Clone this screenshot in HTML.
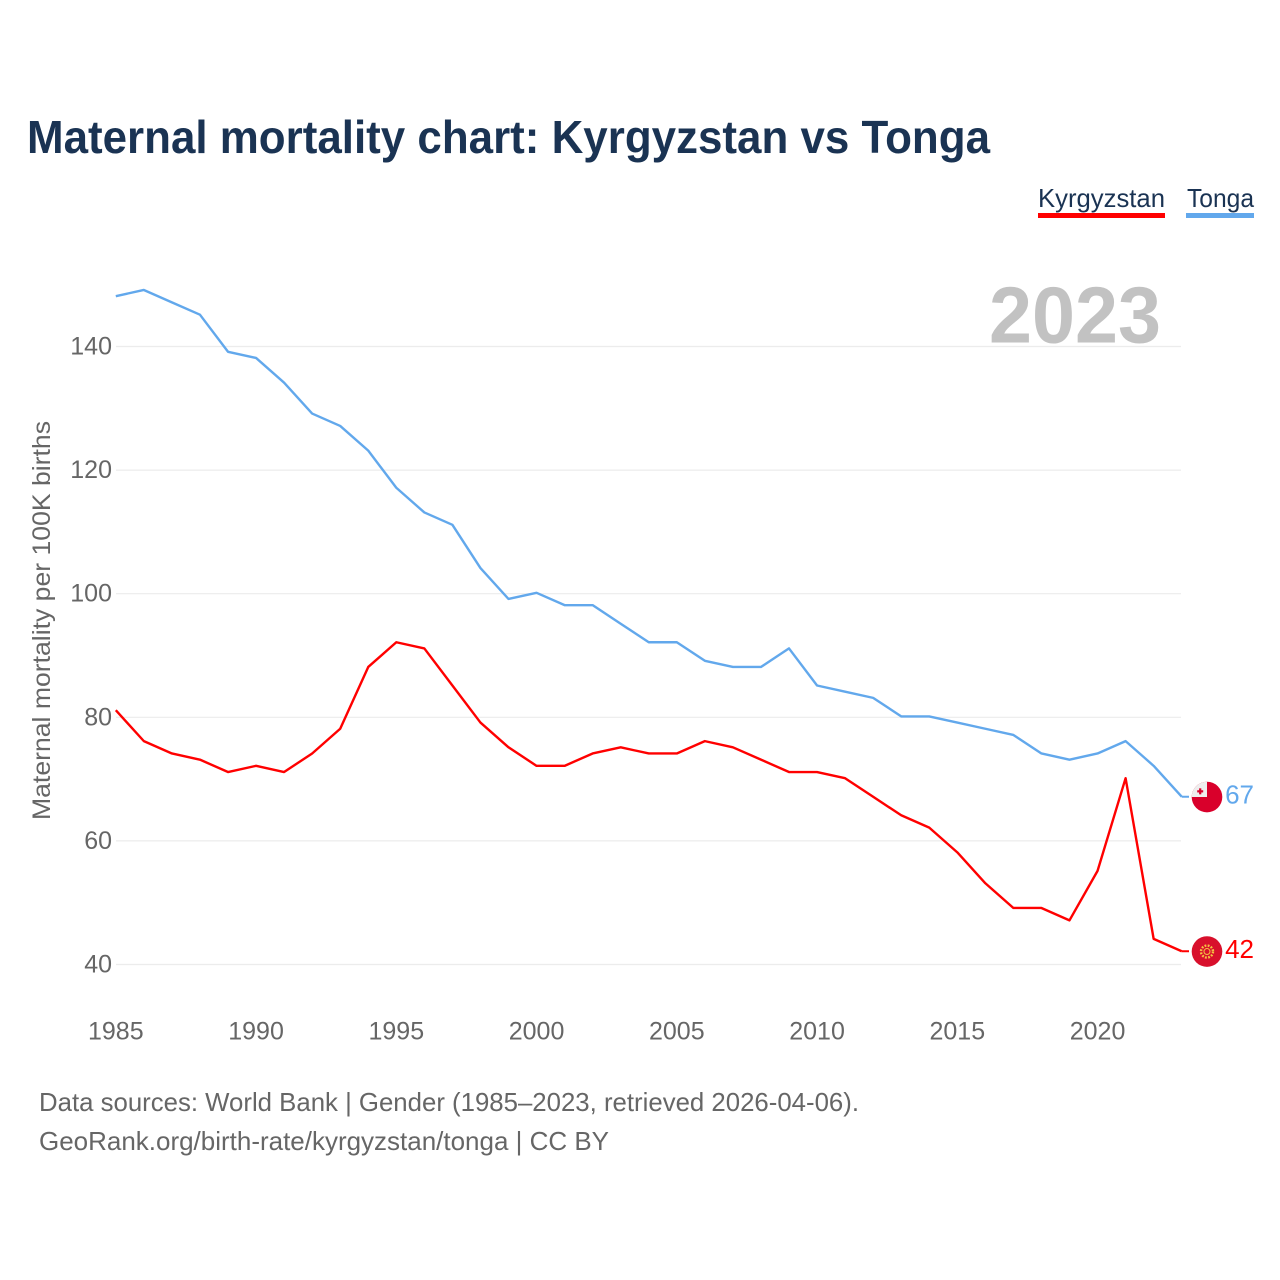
<!DOCTYPE html>
<html lang="en">
<head>
<meta charset="utf-8">
<title>Maternal mortality chart: Kyrgyzstan vs Tonga</title>
<style>
html,body{margin:0;padding:0;background:#fff;width:1280px;height:1280px;overflow:hidden}
svg{display:block;font-family:"Liberation Sans",sans-serif}
</style>
</head>
<body>
<svg id="chart" xmlns="http://www.w3.org/2000/svg" width="1280" height="1280" viewBox="0 0 1280 1280">
  <text x="27" y="153" font-size="46" font-weight="700" fill="#1a3353" textLength="963" lengthAdjust="spacingAndGlyphs">Maternal mortality chart: Kyrgyzstan vs Tonga</text>
  <g>
    <text x="1038" y="207" font-size="26" fill="#1a3353" textLength="127" lengthAdjust="spacingAndGlyphs">Kyrgyzstan</text>
    <rect x="1038" y="213" width="127" height="5" fill="#ff0000"/>
  </g>
  <g>
    <text x="1187" y="207" font-size="26" fill="#1a3353" textLength="67" lengthAdjust="spacingAndGlyphs">Tonga</text>
    <rect x="1186" y="213" width="68" height="5" fill="#62a8ec"/>
  </g>
  <g id="grid"></g>
  <text x="1161" y="342.5" font-size="80" font-weight="700" fill="#c2c2c2" text-anchor="end" textLength="172" lengthAdjust="spacingAndGlyphs">2023</text>
  <g id="yticks"></g>
  <g id="xticks"></g>
  <text transform="translate(50,820) rotate(-90)" font-size="25" fill="#666" textLength="399" lengthAdjust="spacingAndGlyphs">Maternal mortality per 100K births</text>
  <g id="series"></g>
  <g id="end-markers"></g>
  <text x="39" y="1111" font-size="26" fill="#666" textLength="820" lengthAdjust="spacingAndGlyphs">Data sources: World Bank | Gender (1985–2023, retrieved 2026-04-06).</text>
  <text x="39" y="1150" font-size="26" fill="#666" textLength="570" lengthAdjust="spacingAndGlyphs">GeoRank.org/birth-rate/kyrgyzstan/tonga | CC BY</text>
</svg>
<script>
const startYear = 1985;
const xTickLabels = [1985, 1990, 1995, 2000, 2005, 2010, 2015, 2020];
const yTickLabels = [40, 60, 80, 100, 120, 140];
const kyrgyzstanValues = [81,76,74,73,71,72,71,74,78,88,92,91,85,79,75,72,72,74,75,74,74,76,75,73,71,71,70,67,64,62,58,53,49,49,47,55,70,44,42];
const tongaValues = [148,149,147,145,139,138,134,129,127,123,117,113,111,104,99,100,98,98,95,92,92,89,88,88,91,85,84,83,80,80,79,78,77,74,73,74,76,72,67];

const NS = 'http://www.w3.org/2000/svg';
const xScale = year => 115.8 + (year - startYear) * 28.05;
const yScale = value => 963.6 - (value - 40) * 6.18;
const gridOffset = 0.9;

function make(tag, attrs, parent, text) {
  const el = document.createElementNS(NS, tag);
  for (const k in attrs) el.setAttribute(k, attrs[k]);
  if (text !== undefined) el.textContent = text;
  parent.appendChild(el);
  return el;
}

const grid = document.getElementById('grid');
const yticks = document.getElementById('yticks');
const xticks = document.getElementById('xticks');
const series = document.getElementById('series');
const markers = document.getElementById('end-markers');

yTickLabels.forEach(v => {
  const gy = yScale(v) + gridOffset;
  const line = make('line', {x1: 116, x2: 1181, y1: gy, y2: gy, stroke: '#ececec', 'stroke-width': 1.2}, grid);
  
  
  const label = make('text', {x: 112, y: gy + 8, 'font-size': 25, fill: '#666', 'text-anchor': 'end'}, yticks, v);
  
  
});

xTickLabels.forEach(y => {
  const label = make('text', {x: xScale(y), y: 1039.5, 'font-size': 25, fill: '#666', 'text-anchor': 'middle'}, xticks, y);
  
  
});

function pathFor(values) {
  return values.map((v, i) => (i ? 'L' : 'M') + xScale(startYear + i).toFixed(2) + ' ' + yScale(v).toFixed(2)).join(' ');
}

const tongaLine = make('path', {d: pathFor(tongaValues), fill: 'none', stroke: '#62a8ec', 'stroke-width': 2.4, 'stroke-linejoin': 'round'}, series);



const kyrgyzstanLine = make('path', {d: pathFor(kyrgyzstanValues), fill: 'none', stroke: '#ff0000', 'stroke-width': 2.4, 'stroke-linejoin': 'round'}, series);



function endMarker(name, values, color, drawFlag) {
  const last = values[values.length - 1];
  const cy = yScale(last);
  const cx = 1207;
  const stub = make('line', {x1: xScale(startYear + values.length - 1), x2: cx - 18, y1: cy, y2: cy, stroke: color, 'stroke-width': 2}, markers);
  
  
  const g = make('g', {}, markers);
  
  
  drawFlag(g, cx, cy + 0.3);
  const label = make('text', {x: 1254, y: cy + 6.8, 'font-size': 26, fill: color, 'text-anchor': 'end'}, markers, last);
  
  
}

endMarker('tonga', tongaValues, '#62a8ec', (g, cx, c) => {
  make('circle', {cx: cx, cy: c, r: 15.3, fill: '#d9002b'}, g);
  make('path', {d: `M${cx} ${c} H${cx - 15.3} A15.3 15.3 0 0 1 ${cx} ${c - 15.3} Z`, fill: '#eeeeee'}, g);
  make('rect', {x: cx - 9.8, y: c - 6.8, width: 6, height: 2.2, fill: '#d9002b'}, g);
  make('rect', {x: cx - 7.9, y: c - 8.7, width: 2.2, height: 6, fill: '#d9002b'}, g);
});

endMarker('kyrgyzstan', kyrgyzstanValues, '#ff0000', (g, cx, c) => {
  make('circle', {cx: cx, cy: c, r: 15.3, fill: '#d8102c'}, g);
  make('circle', {cx: cx, cy: c, r: 6, fill: 'none', stroke: '#f5c242', 'stroke-width': 2.4, 'stroke-dasharray': '1.8 1.4'}, g);
  make('circle', {cx: cx, cy: c, r: 3, fill: 'none', stroke: '#f5c242', 'stroke-width': 1}, g);
});
</script>
</body>
</html>
